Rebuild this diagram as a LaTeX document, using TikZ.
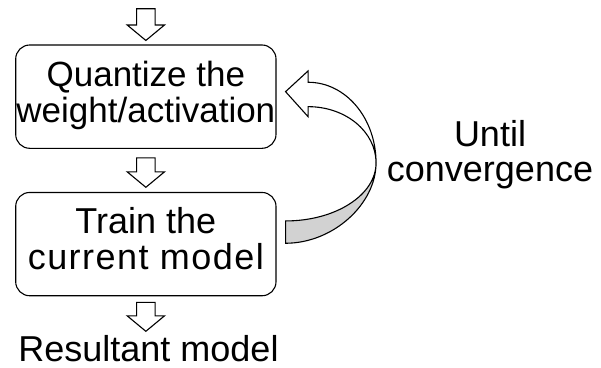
\documentclass[tikz,border=0pt]{standalone}
\usepackage{fontspec}
\setmainfont{Liberation Sans}
\usetikzlibrary{calc}
\definecolor{backside}{RGB}{210,210,210}
\tikzset{
  flowbox/.style={draw=black, line width=1.1pt, rounded corners=14pt,
    minimum width=260.3pt, minimum height=103.3pt, inner sep=0pt},
  lbl/.style={font=\fontsize{36}{37}\selectfont, inner sep=0pt, anchor=base},
  lblfit/.style={lbl, font=\fontsize{35}{36.5}\selectfont},
  blockarrow/.style={draw=black, line width=1.1pt, fill=white, line join=miter},
  loopfront/.style={draw=black, line width=1.1pt, fill=white, line join=miter},
  loopback/.style={draw=black, line width=1.1pt, fill=backside, line join=miter},
}
% hollow down-pointing block arrow from shaft top #1 to tip #2
\newcommand\blockdown[2]{%
  \draw[blockarrow] ($(#1)+(-9.2,0)$) -- ($(#2)+(-9.2,-15.5)$)
    -- ($(#2)+(-18.7,-15.5)$) -- (#2) -- ($(#2)+(18.7,-15.5)$)
    -- ($(#2)+(9.2,-15.5)$) -- ($(#1)+(9.2,0)$) -- cycle;}
\begin{document}
\begin{tikzpicture}[x=1pt, y=-1pt]
  \fill[white] (0,0) rectangle (601,367);
  \useasboundingbox (0,0) rectangle (601,367);

  % process boxes
  \node[flowbox] (q) at (145.85,96.65) {};
  \node[flowbox] (t) at (145.85,244.1) {};
  \node[lblfit] (q1) at ($(q.center)+(0,-10.5)$) {Quantize the};
  \node[lblfit] (q2) at ($(q.center)+(0,26.1)$) {weight/activation};
  \node[lbl] (t1) at ($(t.center)+(0,-11)$) {Train the};
  \node[lbl] (t2) at ($(t.center)+(0,25.6)$) {\addfontfeature{LetterSpace=4}current model};
  \node[lbl] (r) at (148.5,361) {Resultant model};
  \node[lbl] (u1) at (490,146) {Until};
  \node[lbl] (u2) at (490,181.7) {convergence};

  % flow arrows
  \coordinate (a1top) at ($(q.north)+(0,-35.7)$);
  \coordinate (a1tip) at ($(q.north)+(0,-4)$);
  \coordinate (a2top) at ($(q.south)+(0,9)$);
  \coordinate (a2tip) at ($(t.north)+(0,-4.6)$);
  \coordinate (a3top) at ($(t.south)+(0,6)$);
  \coordinate (a3tip) at ($(t.south)+(0,35)$);
  \blockdown{a1top}{a1tip}
  \blockdown{a2top}{a2tip}
  \blockdown{a3top}{a3tip}

  % curved feedback arrow from the training box back to the quantize box
  \coordinate (ltip) at ($(q.east)+(9,-5)$);
  \begin{scope}[shift={(ltip)}]
    \draw[loopback] (90.5,71.3) .. controls (90.5,112) and (48,151.6) .. (0,151.6)
      -- (0,129.3) .. controls (50,129.3) and (90.5,103.3) .. (90.5,71.3) -- cycle;
    \draw[loopfront] (0,0) -- (22.5,-20.7) -- (22.5,-9.4)
      .. controls (60.4,-9.4) and (90.5,26.7) .. (90.5,71.3)
      .. controls (90.5,40.2) and (60.4,15) .. (22.5,15)
      -- (22.5,25) -- cycle;
  \end{scope}
\end{tikzpicture}
\end{document}
